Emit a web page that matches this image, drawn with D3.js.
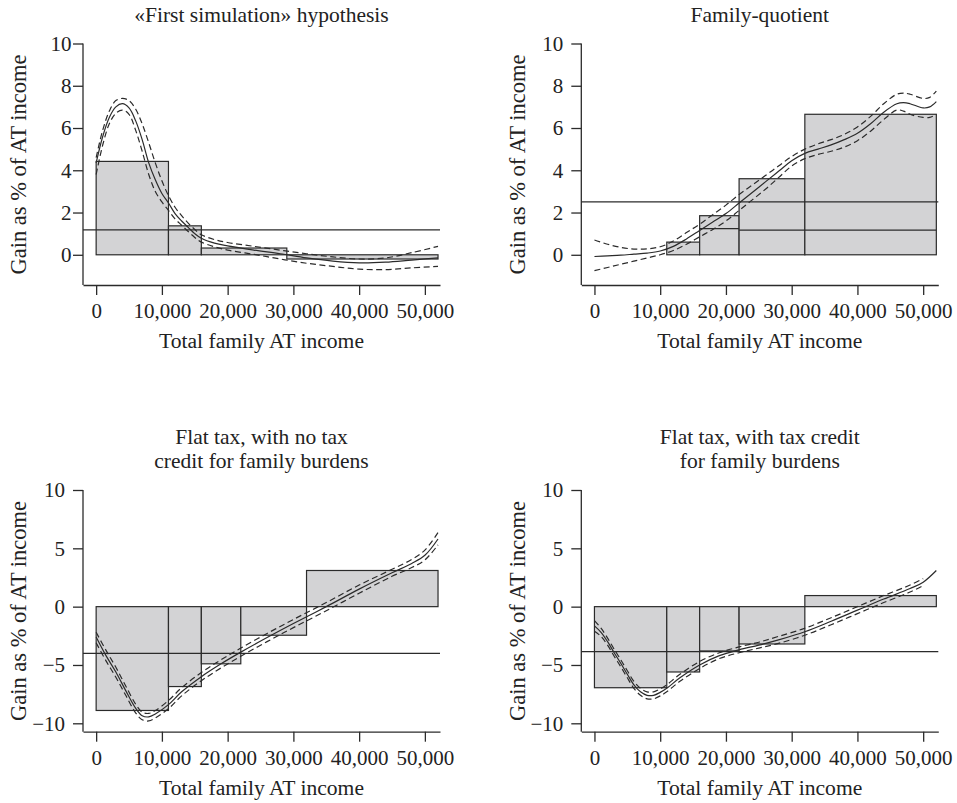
<!DOCTYPE html>
<html>
<head>
<meta charset="utf-8">
<script src="https://cdn.jsdelivr.net/npm/d3@7"></script>
<style>
  body { margin: 0; background: #fff; }
  svg { font-family: "Liberation Serif", "Times New Roman", serif; }
</style>
</head>
<body>
<svg id="chart" width="957" height="803"></svg>
<script>
// ---- data ----
var titles = [
  ["«First simulation» hypothesis"],
  ["Family-quotient"],
  ["Flat tax, with no tax", "credit for family burdens"],
  ["Flat tax, with tax credit", "for family burdens"]
];
var xTicks = [0, 10000, 20000, 30000, 40000, 50000];
var yTicksTop = [0, 2, 4, 6, 8, 10];
var yTicksBottom = [-10, -5, 0, 5, 10];

// bins of the step bars (income, euros) and bar heights
var edges1 = [0, 11000, 16000, 29000, 52000];
var bars1 = [4.42, 1.37, 0.32, -0.2];
var edges2 = [11000, 16000, 22000, 32000, 52000];
var bars2 = [0.6, 1.85, 3.6, 6.65];
var edges3 = [0, 11000, 16000, 22000, 32000, 52000];
var bars3 = [-8.9, -6.85, -4.9, -2.45, 3.1];
var edges4 = [0, 11000, 16000, 22000, 32000, 52000];
var bars4 = [-6.95, -5.6, -3.8, -3.2, 0.95];

// horizontal reference lines
var hline1 = 1.18;
var hline2 = 2.5;
var hline3 = -4.0;
var hline4 = -3.85;
// extra short segments in panel 2: [from, to, value]
var segs2 = [[16000, 22000, 1.24], [22000, 52000, 1.17]];

// smoothed curves with their bands
var cx1 = [0,1000,2000,3000,4000,5000,6000,7000,8000,9000,10000,11000,12000,13000,14000,15000,16000,18000,20000,24000,28000,32000,36000,40000,44000,48000,52000];
var fit1 = [4.35,5.6,6.5,7.0,7.15,6.95,6.35,5.45,4.35,3.55,2.9,2.45,1.95,1.6,1.3,1.0,0.78,0.55,0.42,0.22,0.05,-0.15,-0.3,-0.38,-0.35,-0.25,-0.15];
var hi1 = [4.6,5.9,6.8,7.3,7.4,7.3,6.9,6.2,5.3,4.35,3.5,2.8,2.25,1.85,1.5,1.2,0.95,0.72,0.58,0.4,0.22,0.05,-0.1,-0.2,-0.15,0.1,0.4];
var lo1 = [3.8,5.2,6.2,6.7,6.85,6.65,5.9,4.9,3.8,3.0,2.5,2.1,1.7,1.4,1.1,0.82,0.6,0.38,0.22,0.02,-0.2,-0.4,-0.55,-0.68,-0.7,-0.62,-0.55];

var cx2 = [0,2000,4000,6000,8000,10000,12000,14000,16000,18000,20000,22000,24000,26000,28000,30000,32000,34000,36000,38000,40000,42000,44000,46000,47000,48000,50000,51000,52000];
var fit2 = [-0.08,-0.05,-0.02,0.03,0.08,0.18,0.4,0.75,1.15,1.55,1.95,2.45,2.95,3.45,3.95,4.45,4.8,5.0,5.2,5.45,5.75,6.2,6.75,7.15,7.2,7.15,6.95,7.0,7.25];
var hi2 = [0.7,0.5,0.35,0.27,0.28,0.38,0.65,1.05,1.45,1.9,2.35,2.85,3.3,3.75,4.2,4.65,5.0,5.25,5.45,5.7,6.05,6.55,7.15,7.6,7.65,7.6,7.4,7.45,7.75];
var lo2 = [-0.75,-0.6,-0.45,-0.3,-0.15,0.0,0.2,0.5,0.85,1.2,1.6,2.1,2.6,3.1,3.65,4.2,4.55,4.75,4.9,5.1,5.4,5.85,6.4,6.85,6.8,6.65,6.5,6.5,6.65];

var cx3 = [0,1500,3000,4500,6000,7000,8000,9000,11000,13000,16000,19000,22000,26000,30000,35000,40000,45000,48000,50000,52000];
var fit3 = [-2.6,-4.2,-5.6,-7.2,-8.7,-9.35,-9.45,-9.2,-8.4,-7.3,-6.0,-4.9,-3.9,-2.65,-1.45,0.0,1.5,2.9,3.7,4.4,5.8];
var hi3 = [-2.2,-3.75,-5.2,-6.8,-8.35,-9.05,-9.15,-8.9,-8.05,-6.95,-5.65,-4.55,-3.55,-2.3,-1.1,0.35,1.85,3.2,4.05,4.85,6.35];
var lo3 = [-3.1,-4.65,-6.05,-7.6,-9.1,-9.7,-9.8,-9.55,-8.75,-7.65,-6.35,-5.25,-4.25,-3.0,-1.8,-0.35,1.15,2.6,3.35,4.0,5.3];

var cx4 = [0,1000,2000,3000,4000,5000,6000,7000,8000,9000,10000,11000,13000,16000,19000,22000,25000,28000,32000,36000,40000,44000,48000,50000,52000];
var fit4 = [-1.65,-2.2,-3.0,-3.95,-4.85,-5.8,-6.7,-7.3,-7.6,-7.6,-7.35,-7.0,-6.1,-5.0,-4.2,-3.7,-3.3,-2.85,-2.15,-1.25,-0.3,0.65,1.55,2.1,3.1];
var hi4 = [-1.2,-1.85,-2.7,-3.65,-4.55,-5.5,-6.4,-7.0,-7.3,-7.3,-7.05,-6.7,-5.8,-4.7,-3.95,-3.45,-3.05,-2.55,-1.85,-0.95,0.0,0.95,1.85,2.4,null];
var lo4 = [-2.1,-2.55,-3.3,-4.25,-5.15,-6.1,-7.0,-7.6,-7.9,-7.9,-7.65,-7.3,-6.4,-5.3,-4.45,-3.95,-3.55,-3.15,-2.45,-1.55,-0.6,0.35,1.25,1.8,null];

// ---- layout ----
var ink = "#2b2b2b";
var svg = d3.select("#chart");

var panels = [
  { title: titles[0], left: 83, top: 43.5, bottom: 285, yDom: [-1.43, 10], yTicks: yTicksTop, gap: 1.5,
    edges: edges1, bars: bars1, hline: hline1, segs: [], cx: cx1, fit: fit1, hi: hi1, lo: lo1 },
  { title: titles[1], left: 581.3, top: 43.5, bottom: 285, yDom: [-1.43, 10], yTicks: yTicksTop, gap: 8,
    edges: edges2, bars: bars2, hline: hline2, segs: segs2, cx: cx2, fit: fit2, hi: hi2, lo: lo2 },
  { title: titles[2], left: 83, top: 490, bottom: 731.7, yDom: [-10.72, 10], yTicks: yTicksBottom, gap: 8,
    edges: edges3, bars: bars3, hline: hline3, segs: [], cx: cx3, fit: fit3, hi: hi3, lo: lo3 },
  { title: titles[3], left: 581.3, top: 490, bottom: 731.7, yDom: [-10.72, 10], yTicks: yTicksBottom, gap: 8,
    edges: edges4, bars: bars4, hline: hline4, segs: [], cx: cx4, fit: fit4, hi: hi4, lo: lo4 }
];

panels.forEach(drawPanel);

function drawPanel(p) {
  var right = p.left + 357;
  var x = d3.scaleLinear().domain([-2000, 52300]).range([p.left, right]);
  var y = d3.scaleLinear().domain(p.yDom).range([p.bottom, p.top]);
  var g = svg.append("g");

  // bars
  var barData = p.bars.map(function (v, i) { return { x0: p.edges[i], x1: p.edges[i + 1], v: v }; });
  g.selectAll("rect.bar")
    .data(barData)
    .enter().append("rect")
    .attr("class", "bar")
    .attr("x", function (d) { return x(d.x0); })
    .attr("width", function (d) { return x(d.x1) - x(d.x0); })
    .attr("y", function (d) { return Math.min(y(0), y(d.v)); })
    .attr("height", function (d) { return Math.abs(y(d.v) - y(0)); })
    .attr("fill", "#d3d3d5")
    .attr("stroke", ink)
    .attr("stroke-width", 1.2);

  // reference line across the plot
  g.append("line")
    .attr("x1", p.left).attr("x2", right)
    .attr("y1", y(p.hline)).attr("y2", y(p.hline))
    .attr("stroke", ink).attr("stroke-width", 1.2);

  g.selectAll("line.seg")
    .data(p.segs)
    .enter().append("line")
    .attr("class", "seg")
    .attr("x1", function (d) { return x(d[0]); })
    .attr("x2", function (d) { return x(d[1]); })
    .attr("y1", function (d) { return y(d[2]); })
    .attr("y2", function (d) { return y(d[2]); })
    .attr("stroke", ink).attr("stroke-width", 1.2);

  // curves
  var line = d3.line()
    .defined(function (d) { return d[1] !== null; })
    .x(function (d) { return x(d[0]); })
    .y(function (d) { return y(d[1]); })
    .curve(d3.curveCatmullRom.alpha(0.5));

  [[p.hi, "6,3.5"], [p.lo, "6,3.5"], [p.fit, null]].forEach(function (s) {
    var pts = p.cx.map(function (v, i) { return [v, s[0][i]]; });
    g.append("path")
      .datum(pts)
      .attr("d", line)
      .attr("fill", "none")
      .attr("stroke", ink)
      .attr("stroke-width", 1.2)
      .attr("stroke-dasharray", s[1]);
  });

  // axes
  var xAxis = g.append("g")
    .attr("transform", "translate(0," + p.bottom + ")")
    .call(d3.axisBottom(x).tickValues(xTicks).tickFormat(d3.format(",")).tickSize(10).tickSizeOuter(0).tickPadding(8.4));
  var yAxis = g.append("g")
    .attr("transform", "translate(" + p.left + ",0)")
    .call(d3.axisLeft(y).tickValues(p.yTicks).tickSize(10).tickSizeOuter(0).tickPadding(p.gap));
  [xAxis, yAxis].forEach(function (a) {
    a.selectAll("path, line").attr("stroke", ink).attr("stroke-width", 1.3);
    a.selectAll("text").attr("fill", "#222").style("font-size", "21px").style("font-family", "Liberation Serif, serif");
  });
  yAxis.select(".domain").attr("d", "M0," + p.top + "V" + p.bottom);

  // axis titles
  var cxMid = (p.left + right) / 2;
  g.append("text")
    .attr("x", cxMid).attr("y", p.bottom + 63)
    .attr("text-anchor", "middle")
    .attr("fill", "#222").style("font-size", "21.6px")
    .text("Total family AT income");

  var cyMid = p.top + 121;
  g.append("text")
    .attr("transform", "translate(" + (p.left - 56.6) + "," + cyMid + ") rotate(-90)")
    .attr("text-anchor", "middle")
    .attr("fill", "#222").style("font-size", "22.5px")
    .text("Gain as % of AT income");

  // title
  var n = p.title.length;
  g.selectAll("text.title")
    .data(p.title)
    .enter().append("text")
    .attr("class", "title")
    .attr("x", cxMid)
    .attr("y", function (d, i) { return p.top - 22 - (n - 1 - i) * 24; })
    .attr("text-anchor", "middle")
    .attr("fill", "#222").style("font-size", "21.5px")
    .text(function (d) { return d; });
}
</script>
</body>
</html>
